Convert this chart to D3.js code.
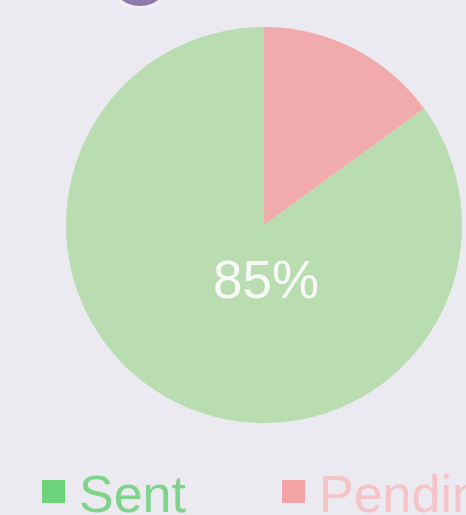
<!DOCTYPE html>
<html>
<head>
<meta charset="utf-8">
<script src="https://cdn.jsdelivr.net/npm/d3@7"></script>
<style>
  html, body { margin: 0; padding: 0; background: #ebeaf0; overflow: hidden; }
  svg { display: block; }
</style>
</head>
<body>
<script>

const w = 466;
const h = 515;

// data
const categories = ["Sent", "Pending"];
const values = [85, 15];
const sliceColors = ["#b9dcb1", "#f2abad"];
const legendSwatch = ["#6dd47c", "#f4a3a6"];
const legendText = ["#7fd38b", "#f6c3c9"];
const centerLabel = "85%";

let svg = d3.select("body")
    .append("svg")
    .attr("width", w)
    .attr("height", h)

// purple icon peeking in at the top
svg.append("circle")
    .attr("cx", 140)
    .attr("cy", -24)
    .attr("r", 33)
    .attr("fill", "#f4eef6")
svg.append("circle")
    .attr("cx", 140)
    .attr("cy", -25)
    .attr("r", 31)
    .attr("fill", "#8b7aab")

const cx = 264, cy = 225, r = 198;

// start at the Pending slice so it sits at 12 o'clock going clockwise
var pie = d3.pie()
    .sort(null)
    .value(d => d.value);

var data = categories.map((c, i) => ({ name: c, value: values[i], color: sliceColors[i] }));
var arcs = pie([data[1], data[0]]);

var arc = d3.arc().innerRadius(0).outerRadius(r);

var g = svg.append("g").attr("transform", `translate(${cx},${cy})`);

g.selectAll("path")
    .data(arcs)
    .enter()
    .append("path")
    .attr("d", arc)
    .attr("fill", d => d.data.color)

svg.append("text")
    .attr("x", cx + 2)
    .attr("y", 298)
    .attr("text-anchor", "middle")
    .style("font-family", "'Liberation Sans', Arial, sans-serif")
    .style("font-size", "53px")
    .style("fill", "#f8fbf5")
    .text(centerLabel)

// legend
var legX = d3.scaleOrdinal().domain(categories).range([42, 282]);

var leg = svg.selectAll(".leg")
    .data(categories)
    .enter()
    .append("g")
    .attr("class", "leg")
    .attr("transform", d => `translate(${legX(d)},0)`)

leg.append("rect")
    .attr("x", 0)
    .attr("y", 480)
    .attr("width", 23)
    .attr("height", 23)
    .attr("fill", (d, i) => legendSwatch[i])

leg.append("text")
    .attr("x", 37)
    .attr("y", 512)
    .style("font-family", "'Liberation Sans', Arial, sans-serif")
    .style("font-size", "52px")
    .style("fill", (d, i) => legendText[i])
    .text(d => d)

</script>
</body>
</html>
